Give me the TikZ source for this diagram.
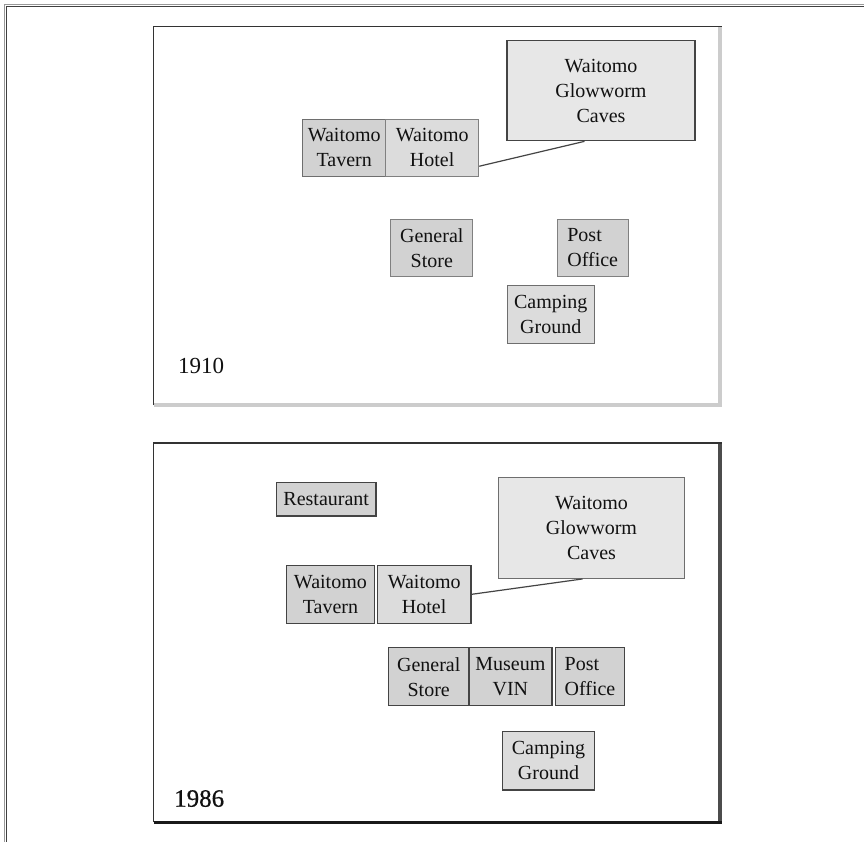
\documentclass[tikz,border=0pt]{standalone}
\usepackage{fontspec}
\setmainfont{Liberation Serif}
\newfontfamily\yearheavy[FakeBold=0.6]{Liberation Serif}
\usetikzlibrary{calc}
\definecolor{txt}{HTML}{111111}
\definecolor{edgedark}{HTML}{444444}
\definecolor{edgemid}{HTML}{6E6E6E}
\definecolor{fillA}{HTML}{D2D2D2}
\definecolor{fillB}{HTML}{DCDCDC}
\definecolor{fillC}{HTML}{E7E7E7}
\tikzset{
  bx/.style={draw=edgemid, line width=1pt, fill=fillA, align=center, inner sep=0pt,
    text=txt, font=\fontsize{20}{25}\selectfont},
  bxdark/.style={bx, draw=edgedark, line width=1.3pt},
  sz/.style 2 args={minimum width=#1pt, minimum height=#2pt},
  link/.style={draw=edgedark, line width=1.2pt},
  yearlbl/.style={anchor=base west, inner sep=0pt, text=txt}
}
\begin{document}
\begin{tikzpicture}[x=1pt,y=-1pt]
\useasboundingbox (0,0) rectangle (864,842);
\fill[white] (0,0) rectangle (864,842);
% outer page frame (top and left only)
\draw[draw=black!40, line width=1.5pt] (864,4.5) -- (4.5,4.5) -- (4.5,842);
\draw[draw=black!75, line width=0.8pt] (864,6.6) -- (6.6,6.6) -- (6.6,842);

% ---------- panel 1910 ----------
\draw[draw=black!20, line width=3.5pt] (720,26.5) -- (720,405) -- (153.6,405);
\draw[draw=black!80, line width=1.4pt] (153.6,405) -- (153.6,26.5) -- (721.5,26.5);

\node[bxdark, fill=fillC, sz={188}{100}] (cav1) at (601,90.7) {Waitomo\\Glowworm\\Caves};
\node[bx, sz={83}{57.7}] (tav1) at (344.2,147.9) {Waitomo\\Tavern};
\node[bx, fill=fillB, draw=black!50, sz={93}{57.7}] (hot1) at (432.2,147.9) {Waitomo\\Hotel};
\node[bx, draw=black!50, sz={82.2}{57.4}] (gen1) at (431.8,248) {General\\Store};
\node[bx, draw=black!50, align=left, sz={71}{57.4}] (post1) at (592.7,248) {Post\\Office};
\node[bx, fill=fillB, sz={87.4}{58}] (camp1) at (550.7,314.3) {Camping\\Ground};
\draw[link] ($(hot1.south east)+(0,-11)$) -- ($(cav1.south)+(-16.5,0)$);
\node[yearlbl, font=\fontsize{23}{26}\selectfont] (yr1) at (178,373) {1910};

% ---------- panel 1986 ----------
\draw[draw=black!70, line width=3.5pt] (720,442.5) -- (720,822.3);
\draw[draw=black!90, line width=3.5pt] (153.6,822.3) -- (721.8,822.3);
\draw[draw=black!80, line width=1.4pt] (153.6,822.3) -- (153.6,442.8) -- (721.5,442.8);

\node[bxdark, sz={99.5}{33.3}] (rest2) at (326.2,499.3) {Restaurant};
\node[bxdark, fill=fillC, draw=edgemid, sz={186}{100.6}] (cav2) at (591.5,528) {Waitomo\\Glowworm\\Caves};
\node[bxdark, sz={88}{58}] (tav2) at (330.4,594.3) {Waitomo\\Tavern};
\node[bxdark, fill=fillB, sz={93.8}{58}] (hot2) at (424.2,594.3) {Waitomo\\Hotel};
\node[bxdark, sz={80.4}{58}] (gen2) at (428.7,676.7) {General\\Store};
\node[bxdark, sz={82.9}{58}] (mus2) at (510.4,676.7) {Museum\\VIN};
\node[bxdark, align=left, sz={69}{58}] (post2) at (590,676.7) {Post\\Office};
\node[bxdark, fill=fillB, sz={91.7}{58.3}] (camp2) at (548.5,760.8) {Camping\\Ground};
\draw[link] (hot2.east) -- ($(cav2.south)+(-9,0)$);
\node[yearlbl, font=\fontsize{25}{28}\yearheavy] (yr2) at (174,806.7) {1986};
\end{tikzpicture}
\end{document}
